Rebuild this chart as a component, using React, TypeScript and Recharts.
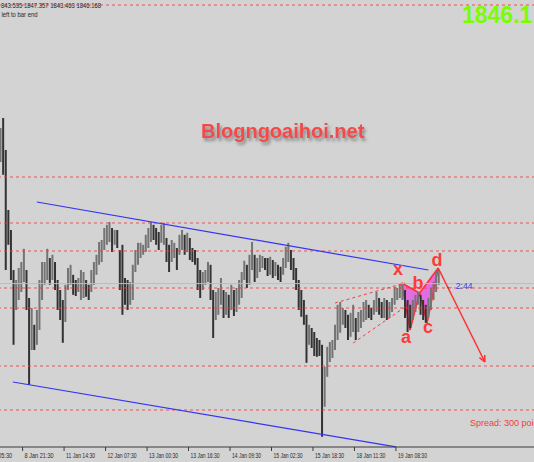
import {
  ComposedChart,
  Bar,
  Area,
  XAxis,
  YAxis,
  ReferenceLine,
  ReferenceDot,
} from "recharts";

// XAUUSD M30 window, one entry per hour (every second bar): high / low
const highs = [
  1885, 1887.5, 1879.5, 1864.5, 1859.5, 1849.5, 1847, 1850, 1851.5, 1854.8,
  1849.5, 1842.5, 1840, 1835.8, 1839.5, 1847, 1851.5, 1851.5, 1854.8, 1852.5,
  1853.3, 1851.5, 1847, 1844.5, 1842, 1845.8, 1850, 1850.8, 1848.3, 1847,
  1847.5, 1849.5, 1849, 1847, 1845.8, 1849.5, 1851.5, 1853.3, 1856.5, 1857,
  1860, 1860.8, 1861.5, 1860, 1859.5, 1859.5, 1854.5, 1855.8, 1847.5, 1847,
  1846.5, 1850.8, 1854.5, 1856.3, 1856.3, 1855.8, 1858.3, 1860, 1861.5, 1860.8,
  1860, 1859, 1860.8, 1861.3, 1857.5, 1855.8, 1857, 1856.3, 1855, 1858.3,
  1859.5, 1858.3, 1858.8, 1857.5, 1855, 1854.5, 1852.5, 1849.5, 1849, 1849.5,
  1851.5, 1850.8, 1844.5, 1844, 1845, 1847.5, 1844.5, 1844, 1843.3, 1845.8,
  1844.5, 1845, 1847, 1849, 1851.8, 1850.8, 1853.3, 1856.5, 1853.3, 1852.5,
  1853.3, 1853, 1852.5, 1852.5, 1852.8, 1852, 1851.5, 1850.8, 1850.3, 1852.5,
  1855.3, 1856.3, 1854.5, 1852.5, 1850, 1847, 1844.5, 1842, 1838.3, 1835.8,
  1835, 1834, 1832.5, 1832, 1830.8, 1825.3, 1830.3, 1831.5, 1832, 1835.8,
  1840.8, 1841.5, 1840, 1839.5, 1838.3, 1838.8, 1840.8, 1837.5, 1839, 1839.5,
  1841.5, 1842, 1840.8, 1840, 1842, 1844, 1842.5, 1841.5, 1842.5, 1842,
  1841.5, 1842.5, 1845.3, 1845, 1845.8, 1846.3, 1844.5, 1842, 1840.8, 1842,
  1843.3, 1844, 1843.3, 1842, 1840.8, 1842.5, 1845, 1846.5, 1849, 1849.5,
];
const lows = [
  1876.5, 1873.3, 1849.5, 1855.8, 1847, 1830.8, 1839.5, 1842, 1844, 1846.5,
  1839.5, 1820.8, 1829.5, 1829.5, 1830.8, 1834.5, 1842, 1845.8, 1847, 1845.8,
  1847, 1844.5, 1839.5, 1837, 1831.3, 1836.5, 1844.5, 1845.8, 1843.3, 1843,
  1844, 1842, 1842.5, 1842.8, 1842, 1844, 1845.8, 1848.3, 1850.8, 1851.5,
  1854.5, 1855.8, 1856.5, 1854, 1855.8, 1855, 1844.5, 1838.3, 1840.8, 1839.5,
  1840.8, 1842, 1849, 1850.8, 1852.5, 1853.3, 1854, 1855, 1856.5, 1857,
  1855.8, 1854.5, 1856.3, 1855.8, 1851.5, 1849, 1851.5, 1852.5, 1849.5, 1853.3,
  1854.5, 1853.3, 1854, 1852, 1851.5, 1850.8, 1844.5, 1842.5, 1844.5, 1845.8,
  1846.5, 1842, 1832.5, 1837, 1838.3, 1840.8, 1837.5, 1838.3, 1837.5, 1839.5,
  1838, 1839, 1840.8, 1842.5, 1847, 1845, 1845.8, 1849.5, 1846.5, 1847.5,
  1849, 1850, 1849.5, 1848, 1848.3, 1847.5, 1848, 1847, 1846.5, 1848.3,
  1850, 1851.5, 1849.5, 1847, 1844.5, 1839.5, 1837.8, 1835.8, 1826.3, 1830.8,
  1830, 1828, 1827.8, 1828, 1807.8, 1815.3, 1822.8, 1826.5, 1827.5, 1829.5,
  1832, 1833.8, 1835.8, 1835, 1832, 1832.8, 1834, 1832, 1834, 1835,
  1836.5, 1837, 1837.5, 1837, 1838.3, 1839, 1838.3, 1837.5, 1837.5, 1837,
  1837.5, 1839, 1840.8, 1842, 1842.5, 1842, 1837.5, 1834, 1835, 1837,
  1839, 1840.8, 1838.3, 1837, 1836.3, 1837.5, 1839.5, 1842, 1844, 1845.8,
];

const tickTimes = [-15, 17, 49, 81, 113, 145, 177, 209, 241, 273, 305];
const tickLabels = [
  "8 Jan 05:30",
  "8 Jan 21:30",
  "11 Jan 14:30",
  "12 Jan 07:30",
  "13 Jan 00:30",
  "13 Jan 16:30",
  "14 Jan 09:30",
  "15 Jan 02:30",
  "15 Jan 18:30",
  "18 Jan 11:30",
  "19 Jan 08:30",
];

const levels = [1915.75, 1872.75, 1861.25, 1854.25, 1845, 1840, 1825.5, 1814.5];
const bidPrice = 1846.1;

const channelUpper = [{ x: 28, y: 1866.5 }, { x: 330, y: 1849.5 }];
const channelLower = [{ x: 9.5, y: 1821.5 }, { x: 305, y: 1805.3 }];
const wedgeUpper = [{ x: 258, y: 1841.25 }, { x: 312, y: 1846.25 }];
const wedgeLower = [{ x: 272, y: 1831.25 }, { x: 312, y: 1840.25 }];

// harmonic points X A B C D
const patternNames = ["x", "a", "b", "c", "d"];
const patternTime = [309.4, 315.9, 323.2, 329, 337.6];
const patternPrice = [1846.25, 1834.5, 1843.75, 1836.25, 1850];
const labelTime = [306.5, 312.7, 322, 329.7, 336.6];
const labelPrice = [1849.75, 1832.75, 1846.25, 1835.25, 1852];

const target = { x: 373.6, y: 1826.5 };
const arrowHead = [
  { x: 373.5, y: 1828.25 },
  { x: 369.4, y: 1827.6 },
];

const RED = "#f23c3c";
const BG = "#d3d3d3";

const bars = highs.map((h, i) => ({
  t: i * 2,
  hl: [lows[i], h],
  up: i === 0 || h + lows[i] >= highs[i - 1] + lows[i - 1],
}));

// triangle X-A-B and B-C-D as range areas (top edge is the straight X-B / B-D side)
const edge = (i: number, j: number, t: number) =>
  patternPrice[i] +
  ((patternPrice[j] - patternPrice[i]) * (t - patternTime[i])) /
    (patternTime[j] - patternTime[i]);

const triangle1 = [
  { t: patternTime[0], r: [patternPrice[0], patternPrice[0]] },
  { t: patternTime[1], r: [patternPrice[1], edge(0, 2, patternTime[1])] },
  { t: patternTime[2], r: [patternPrice[2], patternPrice[2]] },
];
const triangle2 = [
  { t: patternTime[2], r: [patternPrice[2], patternPrice[2]] },
  { t: patternTime[3], r: [patternPrice[3], edge(2, 4, patternTime[3])] },
  { t: patternTime[4], r: [patternPrice[4], patternPrice[4]] },
];

function PriceBar(props: any) {
  const { x, y, width, height, payload } = props;
  if (height == null || isNaN(y)) return null;
  const cx = x + width / 2;
  return (
    <rect
      x={cx - 1}
      y={y}
      width={2}
      height={Math.max(Math.abs(height), 1)}
      fill={payload.up ? "#747474" : "#333333"}
    />
  );
}

function TimeTick(props: any) {
  const { x, payload } = props;
  const label = tickLabels[tickTimes.indexOf(payload.value)];
  return (
    <text
      x={x + 2}
      y={458}
      fontSize={7.5}
      fill="#2a2a2a"
      fontFamily="Liberation Sans, Arial, sans-serif"
      textLength={29}
      lengthAdjust="spacingAndGlyphs"
    >
      {label}
    </text>
  );
}

export default function App() {
  return (
    <div
      style={{
        position: "absolute",
        left: 0,
        top: 0,
        width: 534,
        height: 462,
        overflow: "hidden",
        background: BG,
      }}
    >
      <div style={{ position: "absolute", left: -26, top: 0 }}>
        <ComposedChart
          width={560}
          height={462}
          data={bars}
          margin={{ top: 0, right: 0, bottom: 0, left: 0 }}
        >
          <XAxis
            dataKey="t"
            type="number"
            domain={[-20.5, 411.5]}
            allowDataOverflow
            ticks={tickTimes}
            interval={0}
            height={15}
            tickSize={4}
            axisLine={{ stroke: "#3a3a3a" }}
            tickLine={{ stroke: "#3a3a3a" }}
            tick={<TimeTick />}
          />
          <YAxis hide domain={[1805.25, 1917]} allowDataOverflow />

          {levels.map((p) => (
            <ReferenceLine
              key={p}
              y={p}
              stroke={RED}
              strokeDasharray="3 3"
              strokeOpacity={0.85}
            />
          ))}
          <ReferenceLine y={bidPrice} stroke="#bcbcbc" />

          <Bar
            dataKey="hl"
            barSize={2}
            shape={<PriceBar />}
            isAnimationActive={false}
          />

          <ReferenceLine segment={channelUpper} stroke="#3434f4" strokeWidth={1.2} ifOverflow="visible" />
          <ReferenceLine segment={channelLower} stroke="#3434f4" strokeWidth={1.2} ifOverflow="visible" />
          <ReferenceLine segment={wedgeUpper} stroke={RED} strokeDasharray="3 3" ifOverflow="visible" />
          <ReferenceLine segment={wedgeLower} stroke={RED} strokeDasharray="3 3" ifOverflow="visible" />

          <Area
            data={triangle1}
            dataKey="r"
            type="linear"
            fill="#e45ee4"
            fillOpacity={0.88}
            stroke="#ff3030"
            strokeWidth={1.6}
            dot={false}
            activeDot={false}
            isAnimationActive={false}
          />
          <Area
            data={triangle2}
            dataKey="r"
            type="linear"
            fill="#e45ee4"
            fillOpacity={0.88}
            stroke="#ff3030"
            strokeWidth={1.6}
            dot={false}
            activeDot={false}
            isAnimationActive={false}
          />

          <ReferenceLine
            segment={[{ x: patternTime[4], y: patternPrice[4] }, target]}
            stroke="#ff3030"
            strokeWidth={1.5}
            ifOverflow="visible"
          />
          {arrowHead.map((p, i) => (
            <ReferenceLine
              key={i}
              segment={[p, target]}
              stroke="#ff3030"
              strokeWidth={1.5}
              ifOverflow="visible"
            />
          ))}

          {patternNames.map((n, i) => (
            <ReferenceDot
              key={n}
              x={labelTime[i]}
              y={labelPrice[i]}
              r={0}
              ifOverflow="visible"
              shape={(p: any) => (
                <text
                  x={p.cx}
                  y={p.cy}
                  textAnchor="middle"
                  dominantBaseline="central"
                  fontSize={18}
                  fontWeight={700}
                  fill="#ff3a3a"
                  fontFamily="Liberation Sans, Arial, sans-serif"
                >
                  {n}
                </text>
              )}
            />
          ))}
        </ComposedChart>
      </div>

      <svg
        width={534}
        height={462}
        style={{ position: "absolute", left: 0, top: 0, pointerEvents: "none" }}
        fontFamily="Liberation Sans, Arial, sans-serif"
      >
        <defs>
          <filter id="shadow" x="-10%" y="-30%" width="120%" height="160%">
            <feDropShadow dx="2" dy="3" stdDeviation="1.5" floodColor="#777" floodOpacity="0.8" />
          </filter>
        </defs>
        <text x={1} y={8} fontSize={7} fill="#262626" textLength={100} lengthAdjust="spacingAndGlyphs">
          843.535 1847.357 1843.463 1846.168
        </text>
        <text x={1.5} y={17} fontSize={7} fill="#262626" textLength={36} lengthAdjust="spacingAndGlyphs">
          left to bar end
        </text>
        <text x={462} y={23} fontSize={23} fontWeight={700} fill="#7cfc00">
          1846.1
        </text>
        <text x={201} y={137.5} fontSize={20} fontWeight={700} fill="#f24a4a" filter="url(#shadow)">
          Blogngoaihoi.net
        </text>
        <text x={445} y={289} fontSize={8.5} fill="#3a3af0">
          ← 2:44
        </text>
        <text x={470} y={426} fontSize={9} fill={RED}>
          Spread: 300 points
        </text>
      </svg>
    </div>
  );
}
